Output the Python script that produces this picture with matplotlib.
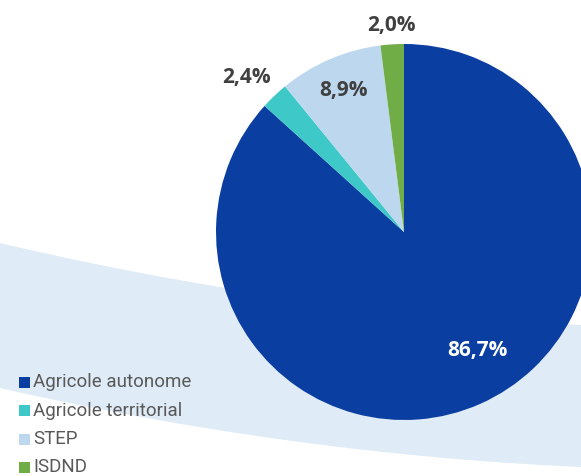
import numpy as np
import matplotlib.pyplot as plt
from matplotlib.patches import Polygon, Rectangle

categories = ["Agricole autonome", "Agricole territorial", "STEP", "ISDND"]
shares = [86.7, 2.4, 8.9, 2.0]
colors = ["#0b3ea1", "#3ec8c8", "#bdd7ee", "#70ad47"]
label_colors = ["white", "#404040", "#404040", "#404040"]

W, H = 581, 476
fig = plt.figure(figsize=(W / 100, H / 100), dpi=100)
ax = fig.add_axes([0, 0, 1, 1])
ax.set_xlim(0, W)
ax.set_ylim(0, H)
ax.axis("off")

# light swoosh band behind the pie
xs = np.linspace(0, W, 200)
top = 243 + 0.2359 * xs - 0.000163 * xs ** 2
bot = 388 + 0.227 * xs - 0.0001567 * xs ** 2
pts = np.vstack([np.column_stack([xs, H - top]),
                 np.column_stack([xs[::-1], H - bot[::-1]])])
ax.add_patch(Polygon(pts, closed=True, fc="#dfebf6", ec="none", zorder=0))

cx, cy, r = 404, H - 232, 188
wedges, _ = ax.pie(shares, colors=colors, startangle=90, counterclock=False,
                   center=(cx, cy), radius=r, frame=True)
for w in wedges:
    w.set_zorder(2)
ax.set_xlim(0, W)
ax.set_ylim(0, H)
ax.set_aspect("equal")
ax.axis("off")

# label placement: (distance as fraction of radius, angle shift in degrees)
placement = [(0.74, 8), (1.17, 2), (0.82, 0), (1.10, 0)]
for w, val, col, (d, shift) in zip(wedges, shares, label_colors, placement):
    ang = np.deg2rad((w.theta1 + w.theta2) / 2 + shift)
    ax.text(cx + d * r * np.cos(ang), cy + d * r * np.sin(ang),
            f"{val:.1f}%".replace(".", ","), ha="center", va="center",
            color=col, fontsize=15, fontweight="bold", family="Open Sans",
            zorder=3)

# legend
for i, (name, col) in enumerate(zip(categories, colors)):
    y = H - (382 + i * 28.5)
    ax.add_patch(Rectangle((19, y - 5.5), 11, 11, fc=col, ec="none", zorder=3))
    ax.text(33, y, name, ha="left", va="center", color="#595959",
            fontsize=13.5, family="Roboto", zorder=3)

fig.savefig("out.png", dpi=100)
